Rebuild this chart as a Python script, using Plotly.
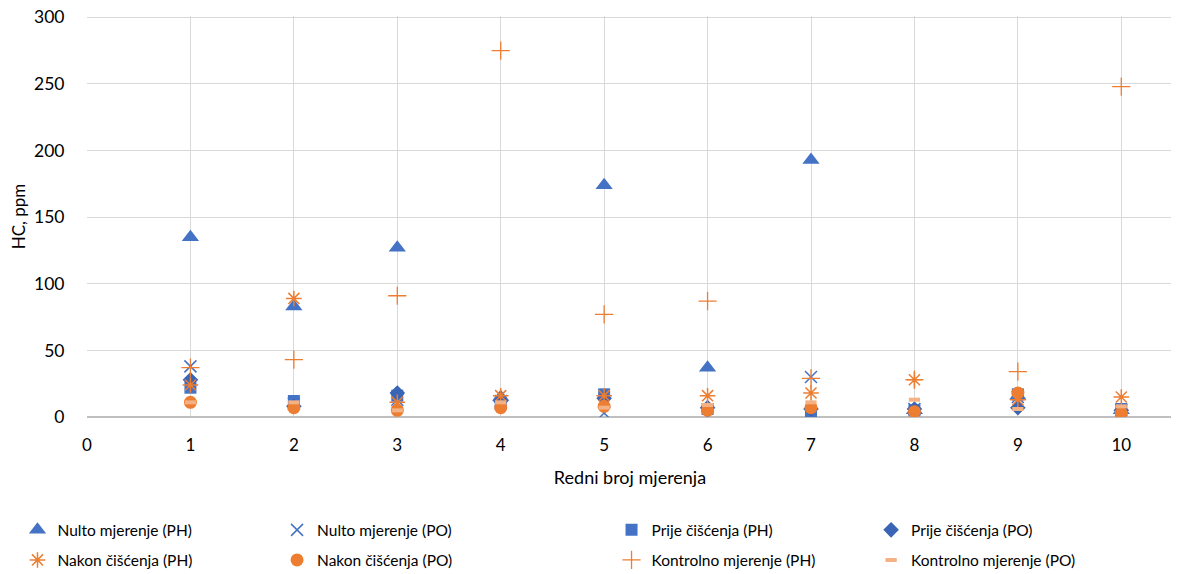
import plotly.graph_objects as go

x_vals = [1, 2, 3, 4, 5, 6, 7, 8, 9, 10]

nulto_ph = [135, 83, 127, 15, 174, 37, 193, 5, 16, 5]
nulto_po = [38, 10, 13, 12, 3, 0, 30, 6, 15, 5]
prije_ph = [22, 12, 16, 10, 17, 6, 4, 5, 17, 6]
prije_po = [28, 8, 18, 12, 14, 7, 6, 6, 7, 5]
nakon_ph = [24, 89, 11, 16, 16, 16, 18, 28, 13, 15]
nakon_po = [11, 7, 5, 7, 8, 5, 7, 4, 18, 3]
kontrolno_ph = [37, 43, 91, 275, 77, 87, 29, 28, 34, 248]
kontrolno_po = [11, 11, 5, 11, 7, 9, 11, 13, 6, 8]

y_ticks = [0, 50, 100, 150, 200, 250, 300]
x_ticks = [0, 1, 2, 3, 4, 5, 6, 7, 8, 9, 10]

names = ["Nulto mjerenje (PH)", "Nulto mjerenje (PO)", "Prije čišćenja (PH)", "Prije čišćenja (PO)",
         "Nakon čišćenja (PH)", "Nakon čišćenja (PO)", "Kontrolno mjerenje (PH)", "Kontrolno mjerenje (PO)"]

BLUE = "#4472C4"
ORANGE = "#ED7D31"
LORANGE = "#F4B183"

series = [
    (nulto_ph, dict(symbol="triangle-up", size=15, color=BLUE, line=dict(width=0))),
    (nulto_po, dict(symbol="x-thin-open", size=12, color=BLUE, line=dict(width=1.5, color=BLUE))),
    (prije_ph, dict(symbol="square", size=12, color=BLUE, line=dict(width=0))),
    (prije_po, dict(symbol="diamond", size=12, color="#3A64B4", line=dict(width=0))),
    (nakon_ph, dict(symbol="asterisk-open", size=13, color=ORANGE, line=dict(width=1.5, color=ORANGE))),
    (nakon_po, dict(symbol="circle", size=13, color=ORANGE, line=dict(width=0))),
    (kontrolno_ph, dict(symbol="cross-thin-open", size=13, color=ORANGE, line=dict(width=1.3, color=ORANGE))),
    (kontrolno_po, dict(symbol="line-ew-open", size=8, color=LORANGE, line=dict(width=4, color=LORANGE))),
]

FONT = "Lato, Carlito, Calibri, sans-serif"
LEG_FONT = dict(family=FONT, size=15.5, color="#000000")

# legend slots: (x paper, y paper) for each entry
col_x = [-0.064, 0.175, 0.483, 0.722]
row_y = [-0.2825, -0.3575]

fig = go.Figure()
legend_layout = {}
for i, (name, (vals, mk)) in enumerate(zip(names, series)):
    key = "legend" if i == 0 else f"legend{i + 1}"
    fig.add_trace(go.Scatter(x=x_vals, y=vals, mode="markers", name=name, marker=mk, legend=key))
    legend_layout[key] = dict(x=col_x[i % 4], xanchor="left", y=row_y[i // 4], yanchor="middle",
                              orientation="h", font=LEG_FONT, bgcolor="rgba(0,0,0,0)",
                              itemsizing="trace")

# page body has an 8px default margin, so the figure is 8px smaller and margins shifted
fig.update_layout(
    width=1171, height=566,
    margin=dict(l=79, r=6, t=8, b=157, autoexpand=False),
    plot_bgcolor="white", paper_bgcolor="white",
    font=dict(family=FONT, size=16, color="#000000"),
    showlegend=True,
    xaxis=dict(range=[0, 10.5], tickvals=x_ticks, showgrid=True, automargin=False,
               gridcolor="#D9D9D9", gridwidth=1, zeroline=False, showline=False,
               ticks="", tickfont=dict(family=FONT, size=17), ticklabelstandoff=16,
               ticklabeloverflow="allow",
               title=dict(text="Redni broj mjerenja", font=dict(family=FONT, size=18), standoff=17)),
    yaxis=dict(range=[0, 301], tickvals=y_ticks, showgrid=True, automargin=True,
               gridcolor="#D9D9D9", gridwidth=1, zeroline=True, zerolinecolor="#BFBFBF",
               zerolinewidth=1.5, showline=False, ticks="outside", ticklen=18,
               tickcolor="rgba(0,0,0,0)", tickfont=dict(family=FONT, size=17.5),
               ticklabeloverflow="allow",
               title=dict(text="HC, ppm", font=dict(family=FONT, size=17), standoff=5)),
    **legend_layout,
)

fig.write_html("out.html")
